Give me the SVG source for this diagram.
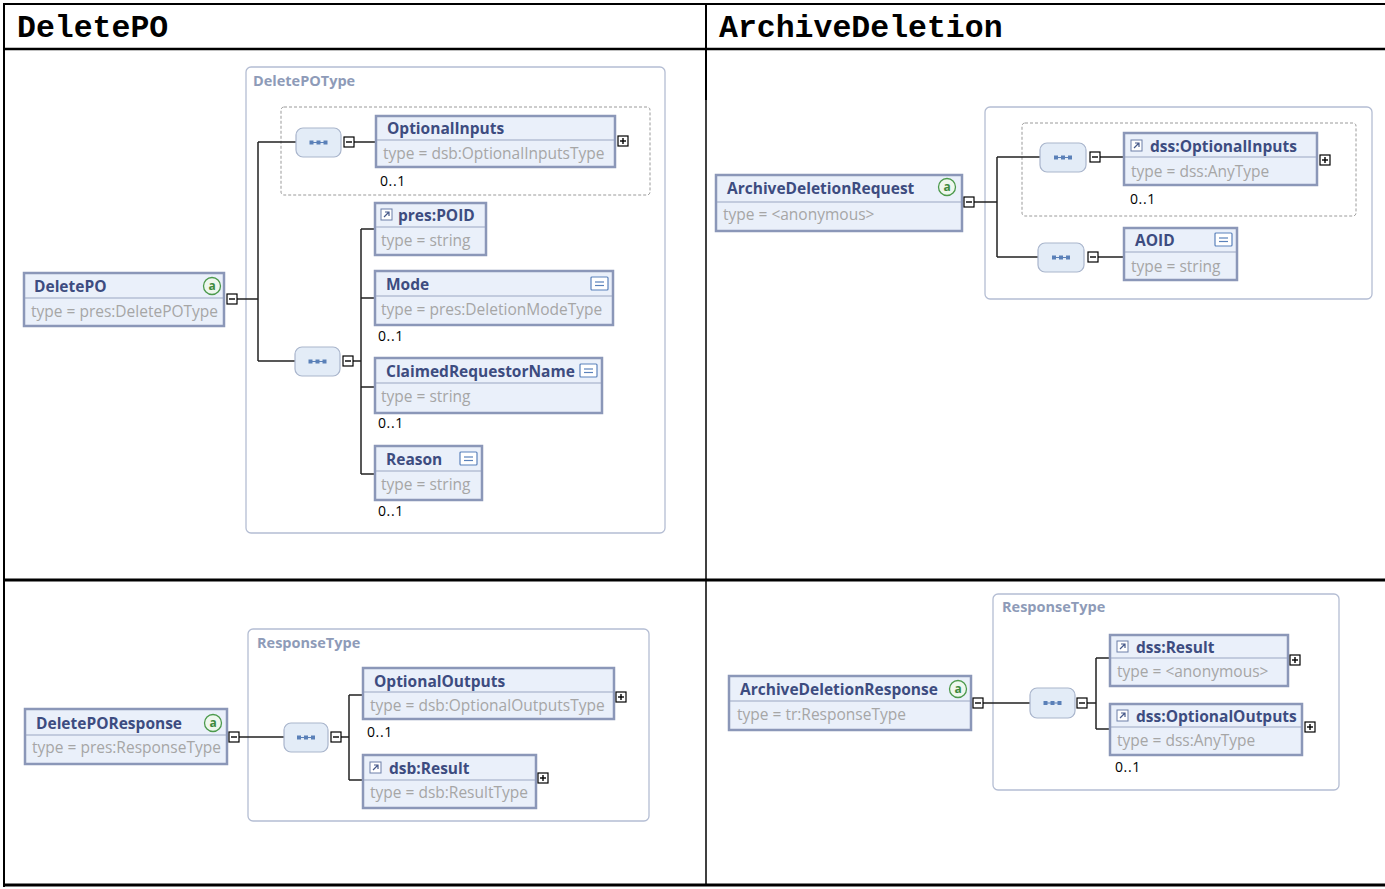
<svg xmlns="http://www.w3.org/2000/svg" width="1385" height="889" viewBox="0 0 1385 889">
<defs>
<style>
.tbl{stroke:#000;fill:none}
.hdr{font-family:"Liberation Mono","Courier New",monospace;font-weight:bold;font-size:31.5px;fill:#000}
.tbox{fill:#fff;stroke:#b4bdd3;stroke-width:1.3}
.tlab{font-family:"Open Sans","Noto Sans",sans-serif;font-weight:bold;font-size:14.5px;fill:#8e9bb8}
.dash{fill:none;stroke:#9a9a9a;stroke-width:1;stroke-dasharray:3 2}
.el{fill:#eaf0fa;stroke:#8b97b8;stroke-width:2.5}
.div{stroke:#9aa5c2;stroke-width:1.2}
.nm{font-family:"Open Sans","Noto Sans",sans-serif;font-weight:bold;font-size:15.5px;fill:#3d4c80}
.ty{font-family:"Open Sans","Noto Sans",sans-serif;font-size:15.5px;fill:#a6a6a6}
.oc{font-family:"Open Sans","Noto Sans",sans-serif;font-size:14px;letter-spacing:0.6px;fill:#000}
.seq{fill:#e3ecf7;stroke:#a9b5cc;stroke-width:1.2}
.sg{fill:#5a80b8}
.sgl{stroke:#5a80b8;stroke-width:1}
.pm{fill:#fff;stroke:#000;stroke-width:1.2}
.pml{stroke:#000;stroke-width:1.4}
.conn{fill:none;stroke:#222;stroke-width:1.5}
.at{fill:#eef7ee;stroke:#4c9a4c;stroke-width:1.3}
.att{font-family:"Open Sans","Noto Sans",sans-serif;font-size:12px;font-weight:bold;fill:#3d8a3d}
.eq{fill:#fff;stroke:#5b82bb;stroke-width:1.2}
.eql{stroke:#5b82bb;stroke-width:1.2}
.ref{fill:#fff;stroke:#6c7fa8;stroke-width:1}
.refl{fill:none;stroke:#46598a;stroke-width:1.2}
</style>
<g id="seqglyph">
<line class="sgl" x1="-8" y1="0" x2="8" y2="0"/>
<rect class="sg" x="-9" y="-2" width="4" height="4"/>
<rect class="sg" x="-2" y="-2" width="4" height="4"/>
<rect class="sg" x="5" y="-2" width="4" height="4"/>
</g>
<g id="minus">
<rect class="pm" x="0" y="0" width="10" height="10"/>
<line class="pml" x1="2" y1="5" x2="8" y2="5"/>
</g>
<g id="plus">
<rect class="pm" x="0" y="0" width="10" height="10"/>
<line class="pml" x1="2" y1="5" x2="8" y2="5"/>
<line class="pml" x1="5" y1="2" x2="5" y2="8"/>
</g>
<g id="eqicon">
<rect class="eq" x="0" y="0" width="17" height="13" rx="1"/>
<line class="eql" x1="4" y1="5" x2="13" y2="5"/>
<line class="eql" x1="4" y1="8.5" x2="13" y2="8.5"/>
</g>
<g id="reficon">
<rect class="ref" x="0" y="0" width="11" height="11"/>
<path class="refl" d="M3,8 L8,3 M4,3 H8 V7"/>
</g>
<g id="aicon">
<circle class="at" cx="0" cy="0" r="8.5"/>
<text class="att" x="0" y="4" text-anchor="middle">a</text>
</g>
</defs>

<!-- table -->
<g id="table">
<line class="tbl" x1="3" y1="4" x2="1385" y2="4" stroke-width="2"/>
<line class="tbl" x1="4" y1="3" x2="4" y2="887" stroke-width="2"/>
<line class="tbl" x1="3" y1="49" x2="1385" y2="49" stroke-width="2.5"/>
<line class="tbl" x1="706" y1="4" x2="706" y2="100" stroke-width="2"/>
<line class="tbl" x1="706" y1="100" x2="706" y2="886" stroke-width="1.5"/>
<line class="tbl" x1="3" y1="580" x2="1385" y2="580" stroke-width="3"/>
<line class="tbl" x1="3" y1="885" x2="1385" y2="885" stroke-width="3"/>
<text class="hdr" x="17" y="37">DeletePO</text>
<text class="hdr" x="719" y="37">ArchiveDeletion</text>
</g>

<!-- ===== Top-left: DeletePO ===== -->
<g id="DeletePOType">
<rect class="tbox" x="246" y="67" width="419" height="466" rx="5"/>
<text class="tlab" x="253" y="86">DeletePOType</text>
<rect class="dash" x="281" y="107" width="369" height="88" rx="3"/>
</g>

<g id="connectors-tl">
<path class="conn" d="M237,299 H258 M258,142 V361 M258,142 H296 M258,361 H295 M354,142 H376 M353,361 H361 M361,229 V474 M361,229 H375 M361,298 H375 M361,387 H375 M361,474 H375"/>
</g>

<g id="seq-tl-1">
<rect class="seq" x="296" y="128" width="45" height="29" rx="7"/>
<use href="#seqglyph" x="318.5" y="142.5"/>
<use href="#minus" x="344" y="137"/>
</g>
<g id="seq-tl-2">
<rect class="seq" x="295" y="347" width="45" height="29" rx="7"/>
<use href="#seqglyph" x="317.5" y="361.5"/>
<use href="#minus" x="343" y="356"/>
</g>

<g id="DeletePO">
<rect class="el" x="24" y="273" width="200" height="53"/>
<line class="div" x1="25" y1="298" x2="223" y2="298"/>
<text class="nm" x="34" y="292">DeletePO</text>
<use href="#aicon" x="212" y="286"/>
<text class="ty" x="31" y="317">type = pres:DeletePOType</text>
<use href="#minus" x="227" y="294"/>
</g>

<g id="OptionalInputs">
<rect class="el" x="376" y="116" width="239" height="51"/>
<line class="div" x1="377" y1="140" x2="614" y2="140"/>
<text class="nm" x="387" y="134">OptionalInputs</text>
<text class="ty" x="383" y="159">type = dsb:OptionalInputsType</text>
<use href="#plus" x="618" y="136"/>
<text class="oc" x="380" y="186">0..1</text>
</g>

<g id="POID">
<rect class="el" x="375" y="203" width="111" height="52"/>
<line class="div" x1="376" y1="227" x2="485" y2="227"/>
<use href="#reficon" x="381" y="209"/>
<text class="nm" x="398" y="221">pres:POID</text>
<text class="ty" x="381" y="246">type = string</text>
</g>

<g id="Mode">
<rect class="el" x="375" y="271" width="238" height="54"/>
<line class="div" x1="376" y1="296" x2="612" y2="296"/>
<text class="nm" x="386" y="290">Mode</text>
<use href="#eqicon" x="591" y="277"/>
<text class="ty" x="381" y="315">type = pres:DeletionModeType</text>
<text class="oc" x="378" y="341">0..1</text>
</g>

<g id="ClaimedRequestorName">
<rect class="el" x="375" y="358" width="227" height="55"/>
<line class="div" x1="376" y1="383" x2="601" y2="383"/>
<text class="nm" x="386" y="377">ClaimedRequestorName</text>
<use href="#eqicon" x="580" y="364"/>
<text class="ty" x="381" y="402">type = string</text>
<text class="oc" x="378" y="428">0..1</text>
</g>

<g id="Reason">
<rect class="el" x="375" y="446" width="107" height="54"/>
<line class="div" x1="376" y1="471" x2="481" y2="471"/>
<text class="nm" x="386" y="465">Reason</text>
<use href="#eqicon" x="460" y="452"/>
<text class="ty" x="381" y="490">type = string</text>
<text class="oc" x="378" y="516">0..1</text>
</g>

<!-- ===== Top-right: ArchiveDeletion ===== -->
<g id="ArchiveDeletionType">
<rect class="tbox" x="985" y="107" width="387" height="192" rx="5"/>
<rect class="dash" x="1022" y="123" width="334" height="93" rx="3"/>
</g>

<g id="connectors-tr">
<path class="conn" d="M974,202 H997 M997,157 V257 M997,157 H1040 M997,257 H1038 M1100,157 H1124 M1098,257 H1124"/>
</g>

<g id="seq-tr-1">
<rect class="seq" x="1040" y="143" width="46" height="29" rx="7"/>
<use href="#seqglyph" x="1063" y="157.5"/>
<use href="#minus" x="1090" y="152"/>
</g>
<g id="seq-tr-2">
<rect class="seq" x="1038" y="243" width="46" height="29" rx="7"/>
<use href="#seqglyph" x="1061" y="257.5"/>
<use href="#minus" x="1088" y="252"/>
</g>

<g id="ArchiveDeletionRequest">
<rect class="el" x="716" y="175" width="246" height="56"/>
<line class="div" x1="717" y1="202" x2="961" y2="202"/>
<text class="nm" x="727" y="194">ArchiveDeletionRequest</text>
<use href="#aicon" x="947" y="187"/>
<text class="ty" x="723" y="220">type = &lt;anonymous&gt;</text>
<use href="#minus" x="964" y="197"/>
</g>

<g id="dssOptionalInputs">
<rect class="el" x="1124" y="133" width="193" height="52"/>
<line class="div" x1="1125" y1="157" x2="1316" y2="157"/>
<use href="#reficon" x="1131" y="140"/>
<text class="nm" x="1150" y="152">dss:OptionalInputs</text>
<text class="ty" x="1131" y="177">type = dss:AnyType</text>
<use href="#plus" x="1320" y="155"/>
<text class="oc" x="1130" y="204">0..1</text>
</g>

<g id="AOID">
<rect class="el" x="1124" y="228" width="113" height="52"/>
<line class="div" x1="1125" y1="252" x2="1236" y2="252"/>
<text class="nm" x="1135" y="246">AOID</text>
<use href="#eqicon" x="1215" y="233"/>
<text class="ty" x="1131" y="272">type = string</text>
</g>

<!-- ===== Bottom-left: DeletePOResponse ===== -->
<g id="ResponseType-bl">
<rect class="tbox" x="248" y="629" width="401" height="192" rx="5"/>
<text class="tlab" x="257" y="648">ResponseType</text>
</g>

<g id="connectors-bl">
<path class="conn" d="M239,737 H284 M341,737 H349 M349,695 V780 M349,695 H363 M349,780 H363"/>
</g>

<g id="seq-bl">
<rect class="seq" x="284" y="723" width="44" height="29" rx="7"/>
<use href="#seqglyph" x="306" y="737.5"/>
<use href="#minus" x="331" y="732"/>
</g>

<g id="DeletePOResponse">
<rect class="el" x="25" y="709" width="202" height="55"/>
<line class="div" x1="26" y1="735" x2="226" y2="735"/>
<text class="nm" x="36" y="729">DeletePOResponse</text>
<use href="#aicon" x="213" y="723"/>
<text class="ty" x="32" y="753">type = pres:ResponseType</text>
<use href="#minus" x="229" y="732"/>
</g>

<g id="OptionalOutputs">
<rect class="el" x="363" y="668" width="251" height="51"/>
<line class="div" x1="364" y1="692" x2="613" y2="692"/>
<text class="nm" x="374" y="687">OptionalOutputs</text>
<text class="ty" x="370" y="711">type = dsb:OptionalOutputsType</text>
<use href="#plus" x="616" y="692"/>
<text class="oc" x="367" y="737">0..1</text>
</g>

<g id="dsbResult">
<rect class="el" x="363" y="755" width="173" height="53"/>
<line class="div" x1="364" y1="780" x2="535" y2="780"/>
<use href="#reficon" x="370" y="762"/>
<text class="nm" x="389" y="774">dsb:Result</text>
<text class="ty" x="370" y="798">type = dsb:ResultType</text>
<use href="#plus" x="538" y="773"/>
</g>

<!-- ===== Bottom-right: ArchiveDeletionResponse ===== -->
<g id="ResponseType-br">
<rect class="tbox" x="993" y="594" width="346" height="196" rx="5"/>
<text class="tlab" x="1002" y="612">ResponseType</text>
</g>

<g id="connectors-br">
<path class="conn" d="M983,703 H1030 M1087,703 H1096 M1096,658 V729 M1096,658 H1110 M1096,729 H1110"/>
</g>

<g id="seq-br">
<rect class="seq" x="1030" y="688" width="45" height="30" rx="7"/>
<use href="#seqglyph" x="1052.5" y="703"/>
<use href="#minus" x="1077" y="698"/>
</g>

<g id="ArchiveDeletionResponse">
<rect class="el" x="729" y="676" width="242" height="54"/>
<line class="div" x1="730" y1="701" x2="970" y2="701"/>
<text class="nm" x="740" y="695">ArchiveDeletionResponse</text>
<use href="#aicon" x="958" y="689"/>
<text class="ty" x="737" y="720">type = tr:ResponseType</text>
<use href="#minus" x="973" y="698"/>
</g>

<g id="dssResult">
<rect class="el" x="1110" y="635" width="178" height="51"/>
<line class="div" x1="1111" y1="658" x2="1287" y2="658"/>
<use href="#reficon" x="1117" y="641"/>
<text class="nm" x="1136" y="653">dss:Result</text>
<text class="ty" x="1117" y="677">type = &lt;anonymous&gt;</text>
<use href="#plus" x="1290" y="655"/>
</g>

<g id="dssOptionalOutputs">
<rect class="el" x="1110" y="704" width="192" height="51"/>
<line class="div" x1="1111" y1="727" x2="1301" y2="727"/>
<use href="#reficon" x="1117" y="710"/>
<text class="nm" x="1136" y="722">dss:OptionalOutputs</text>
<text class="ty" x="1117" y="746">type = dss:AnyType</text>
<use href="#plus" x="1305" y="722"/>
<text class="oc" x="1115" y="772">0..1</text>
</g>
</svg>
